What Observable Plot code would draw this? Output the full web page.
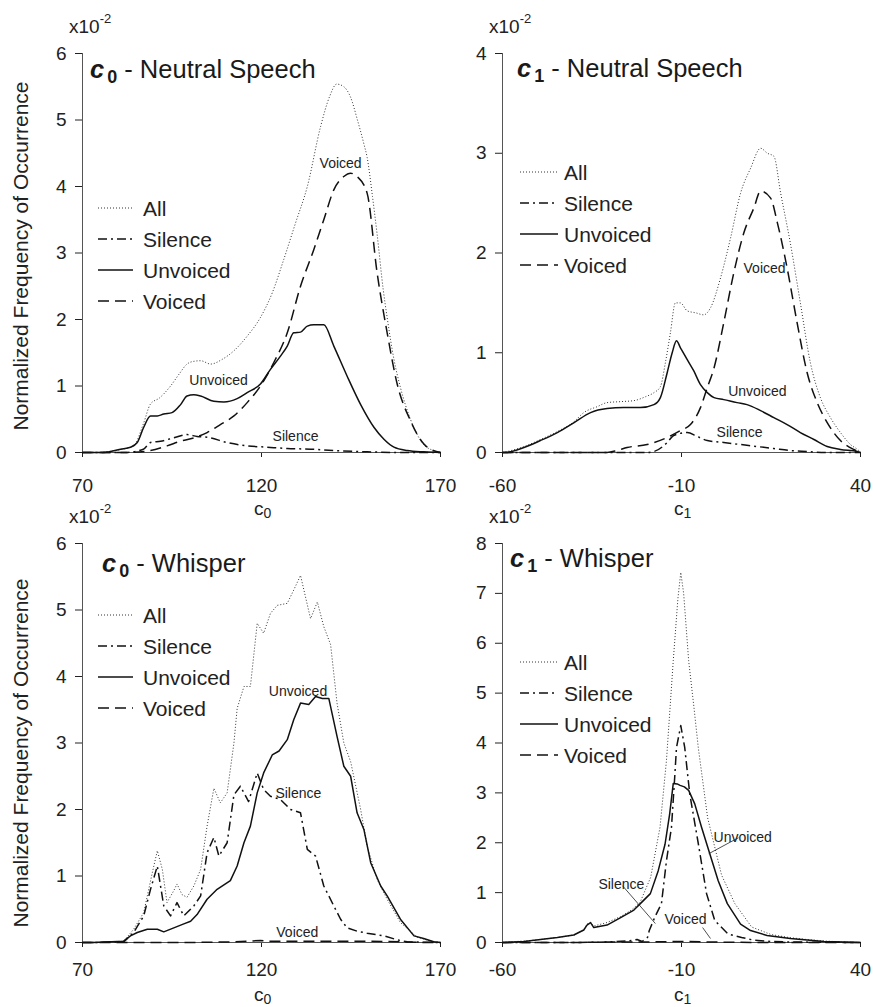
<!DOCTYPE html>
<html>
<head>
<meta charset="utf-8">
<script src="https://cdn.jsdelivr.net/npm/d3@7"></script>
<script src="https://cdn.jsdelivr.net/npm/@observablehq/plot@0.6"></script>
<style>
  body { margin: 0; background: #fff; }
  #chart { position: relative; width: 874px; height: 1007px; overflow: hidden;
           font-family: "Liberation Sans", Arial, sans-serif; color: #222; }
  .panel { position: absolute; }
  #overlay { position: absolute; left: 0; top: 0; pointer-events: none; }
</style>
</head>
<body>
<div id="chart"></div>
<script>
// Histogram values in units of 1e-2, as [coefficient value, normalized frequency].

// c0 - Neutral Speech
const c0NeutralAll = [[70,0],[73,0],[78,0.02],[82,0.06],[84.3,0.1],[87,0.43],[89,0.73],[91.5,0.82],[94.6,1.0],[97,1.18],[99.2,1.33],[101,1.37],[103,1.38],[105.8,1.33],[109,1.4],[112.3,1.53],[116,1.75],[119.7,2.03],[123,2.4],[126.2,2.9],[129.5,3.45],[132.8,4.0],[136.5,4.9],[139,5.35],[141,5.54],[143,5.5],[144.9,5.34],[146.8,5.0],[148.6,4.64],[149.5,4.44],[151,3.85],[152.3,3.28],[154,2.45],[155.1,2.03],[157,1.4],[158.8,0.98],[161.6,0.5],[163.5,0.27],[165.3,0.12],[168,0.03],[170,0]];
const c0NeutralSilence = [[70,0],[73,0],[82,0],[87,0.05],[89,0.15],[91.8,0.17],[95.5,0.22],[99.2,0.27],[102,0.24],[104.8,0.23],[110.4,0.15],[116,0.1],[121.6,0.08],[127.2,0.06],[133.7,0.05],[140.2,0.03],[149.5,0.01],[160,0],[170,0]];
const c0NeutralUnvoiced = [[70,0],[73,0],[76,0],[80.6,0.05],[83.4,0.08],[85.3,0.15],[87.1,0.38],[89,0.55],[90.9,0.55],[92.7,0.58],[95,0.6],[97.4,0.72],[99.2,0.85],[101.1,0.87],[103,0.85],[106.7,0.77],[109.5,0.76],[113.2,0.81],[116,0.9],[119.7,1.03],[122.5,1.25],[125.3,1.45],[127.2,1.6],[129,1.8],[130.9,1.81],[132.8,1.9],[134.6,1.92],[137.4,1.92],[140.2,1.6],[143.9,1.15],[147.7,0.72],[151.4,0.38],[154.2,0.2],[157,0.08],[160.7,0.03],[165.3,0.01],[170,0]];
const c0NeutralVoiced = [[70,0],[82.5,0],[89,0.03],[93.6,0.1],[97.4,0.17],[101.1,0.22],[104.8,0.3],[108.5,0.42],[112.3,0.55],[116,0.75],[119.7,1.0],[123.4,1.35],[127.2,1.8],[130.9,2.5],[134.6,3.05],[137.4,3.5],[140.2,3.95],[143,4.15],[144.9,4.2],[146.7,4.15],[149.5,3.9],[152.3,2.7],[155.1,1.8],[157.9,1.03],[161.6,0.48],[165.3,0.13],[168,0.03],[170,0]];

// c1 - Neutral Speech
const c1NeutralAll = [[-60,0],[-58.7,0.01],[-54,0.06],[-49.4,0.13],[-44.7,0.21],[-40,0.31],[-37.3,0.4],[-33.5,0.46],[-30.8,0.5],[-27,0.51],[-23.3,0.52],[-20,0.56],[-17.7,0.6],[-15.9,0.66],[-14.5,0.9],[-13.1,1.2],[-11.7,1.5],[-10.3,1.5],[-8.4,1.42],[-6,1.4],[-3.8,1.38],[-1.9,1.45],[0.9,1.75],[3.7,2.15],[6.5,2.6],[9.3,2.85],[12.1,3.05],[14,3.0],[15.8,2.97],[17.7,2.6],[20.4,2.1],[23.2,1.5],[26,0.9],[28.8,0.55],[31.6,0.35],[34.4,0.2],[37.2,0.08],[39.5,0.02],[40,0]];
const c1NeutralSilence = [[-60,0],[-20,0],[-17.7,0.01],[-14,0.1],[-12.2,0.17],[-8.4,0.2],[-5.6,0.16],[-2.8,0.12],[1.8,0.1],[6.5,0.08],[11.1,0.06],[15.8,0.04],[20.4,0.02],[25.1,0.01],[30,0],[40,0]];
const c1NeutralUnvoiced = [[-60,0],[-59.2,0],[-54,0.05],[-49.4,0.12],[-44.7,0.2],[-40,0.3],[-35.4,0.4],[-30.8,0.44],[-26.1,0.45],[-21.5,0.45],[-17.7,0.48],[-15.9,0.55],[-14,0.8],[-12.6,1.0],[-11.4,1.12],[-10.3,1.05],[-8.4,0.93],[-6.6,0.82],[-4.7,0.68],[-2.8,0.6],[-0.9,0.55],[1.8,0.53],[5.5,0.5],[8.3,0.48],[12.1,0.42],[15.8,0.35],[19.5,0.28],[23.2,0.2],[27,0.13],[30.7,0.06],[34.4,0.03],[39.1,0.01],[40,0]];
const c1NeutralVoiced = [[-60,0],[-30.8,0],[-28,0.02],[-25.2,0.05],[-19.6,0.08],[-14,0.15],[-10.3,0.22],[-7.5,0.28],[-4.7,0.45],[-2.8,0.65],[-0.9,0.85],[1.8,1.3],[4.6,1.8],[7.4,2.2],[10.2,2.45],[12.1,2.62],[14.9,2.55],[16.8,2.3],[19.5,1.85],[22.3,1.3],[25.1,0.8],[27.9,0.5],[30.7,0.3],[34.4,0.12],[38.1,0.03],[40,0]];

// c0 - Whisper
const c0WhisperAll = [[70,0],[73,0],[81.5,0.02],[84.3,0.2],[87.1,0.45],[89.5,1.05],[90.9,1.38],[92.3,1.1],[93.6,0.6],[95.5,0.78],[96.4,0.88],[97.8,0.72],[99.2,0.68],[101.1,0.85],[103,1.1],[104.8,1.75],[106.7,2.32],[108.5,2.1],[110.4,2.25],[112.3,3.0],[113.2,3.52],[115.1,3.85],[116.9,3.85],[118.8,4.8],[120.6,4.65],[122.5,4.95],[124.4,5.07],[127.2,5.1],[129,5.3],[130.9,5.52],[133.7,4.87],[135.6,5.12],[137.4,4.75],[139.3,4.48],[141.1,3.6],[143,3.0],[144.9,2.72],[147.7,2.0],[149.5,1.45],[152.3,0.95],[155.1,0.65],[158.8,0.3],[163.5,0.08],[167.2,0.02],[170,0]];
const c0WhisperSilence = [[70,0],[73,0],[81.5,0.01],[84.3,0.15],[87.1,0.4],[89,0.8],[90.9,1.15],[92.7,0.55],[94.6,0.4],[96.4,0.6],[98.3,0.4],[101.1,0.55],[103,0.7],[104.8,1.35],[106.7,1.58],[108.1,1.3],[110.4,1.5],[112.3,2.22],[114.1,2.35],[116.4,2.12],[118.8,2.55],[120.6,2.3],[122.5,2.2],[125.3,2.15],[128.1,2.0],[130.9,1.95],[132.8,1.4],[135.1,1.3],[137.4,0.85],[140.2,0.55],[142.1,0.35],[143.9,0.22],[146.7,0.17],[149.5,0.14],[154.2,0.1],[157.9,0.04],[160.7,0.01],[170,0]];
const c0WhisperUnvoiced = [[70,0],[73,0],[81.5,0.02],[83.4,0.1],[85.3,0.15],[88.1,0.2],[90.9,0.2],[92.7,0.16],[95.5,0.22],[98.3,0.28],[100.2,0.32],[102,0.42],[104.8,0.65],[107.6,0.8],[111.3,0.93],[113.2,1.15],[115.1,1.5],[116.9,1.75],[118.8,2.25],[120.6,2.55],[123,2.82],[124.9,2.88],[127.2,3.05],[129,3.35],[130.9,3.6],[133.2,3.58],[135.1,3.7],[137,3.67],[138.8,3.67],[141.1,3.1],[143,2.65],[144.9,2.5],[146.7,1.95],[148.6,1.7],[150.5,1.2],[153.3,0.85],[155.1,0.7],[158.8,0.35],[162.6,0.1],[165.3,0.06],[168.1,0.01],[170,0]];
const c0WhisperVoiced = [[70,0],[100,0],[112.3,0.01],[119.7,0.03],[121.6,0.02],[130.9,0.02],[140.2,0.02],[149.5,0.02],[158.8,0.01],[165,0],[170,0]];

// c1 - Whisper
const c1WhisperAll = [[-60,0],[-58.7,0.01],[-54,0.03],[-49.4,0.06],[-44.7,0.1],[-40,0.15],[-37.3,0.25],[-36.4,0.37],[-35.4,0.4],[-34.5,0.33],[-30.8,0.4],[-27,0.52],[-24,0.65],[-21.6,0.8],[-18.6,1.31],[-16,2.31],[-14.2,3.65],[-12.3,5.65],[-11,6.9],[-10.2,7.42],[-9.4,7.0],[-8,5.65],[-6.5,4.7],[-5.3,3.9],[-2.7,2.5],[1.2,1.35],[4.9,0.78],[9.6,0.31],[15,0.16],[20,0.1],[25,0.06],[30,0.03],[35,0.01],[40,0]];
const c1WhisperSilence = [[-60,0],[-40,0],[-30.8,0.01],[-25,0.03],[-22.4,0.06],[-21,0.02],[-19.5,0.1],[-19,0.24],[-17.5,0.5],[-15.6,0.78],[-14.2,1.64],[-12.8,2.31],[-11.9,3.31],[-11.4,3.91],[-10.2,4.35],[-9.1,3.91],[-7.7,2.98],[-5.3,1.98],[-3.0,0.98],[-0.7,0.44],[3.0,0.17],[6.8,0.1],[10,0.05],[15,0.02],[20,0.01],[40,0]];
const c1WhisperUnvoiced = [[-60,0],[-59.2,0],[-54,0.02],[-49.4,0.06],[-44.7,0.1],[-40.1,0.15],[-37.3,0.25],[-36.4,0.35],[-35.4,0.4],[-34.5,0.3],[-30.8,0.35],[-27,0.5],[-23.3,0.65],[-21.5,0.78],[-18.7,0.98],[-16.5,1.44],[-14.6,1.97],[-13.3,2.58],[-12.3,3.19],[-11.2,3.18],[-10.4,3.15],[-9.2,3.12],[-8,3.05],[-6.3,2.78],[-4.4,2.31],[-2.1,1.78],[0.25,1.24],[2.8,0.78],[6.5,0.37],[9.3,0.24],[13.9,0.14],[20.4,0.08],[25.1,0.05],[29.8,0.02],[35,0.01],[40,0]];
const c1WhisperVoiced = [[-60,0],[-40,0],[-30,0.01],[-20,0.01],[-12,0.02],[-8,0.02],[-2,0.01],[10,0],[40,0]];

// In-plot labels: [x, y, text, anchor]
const c0NeutralNotes = [[142.1,4.35,"Voiced","middle"],[108,1.08,"Unvoiced","middle"],[129.5,0.24,"Silence","middle"]];
const c1NeutralNotes = [[13.2,1.84,"Voiced","middle"],[11.2,0.61,"Unvoiced","middle"],[6.2,0.2,"Silence","middle"]];
const c0WhisperNotes = [[130.2,3.77,"Unvoiced","middle"],[130.3,2.24,"Silence","middle"],[130,0.15,"Voiced","middle"]];
const c1WhisperNotes = [[7.1,2.1,"Unvoiced","start"],[-26.8,1.16,"Silence","end"],[-8.9,0.46,"Voiced","middle"]];
// Leader lines from label to curve: [x1, y1, x2, y2]
const c1WhisperLeaders = [[5.9,2.1,-2.4,1.78],[-26.5,1.14,-17.3,0.38],[-4.1,0.3,-1.9,0.08]];

const seriesNames = ["All", "Silence", "Unvoiced", "Voiced"];

// Line styles per series
const lineStyle = {
  All:      {stroke: "#333", strokeWidth: 1,   dash: "1,2"},
  Silence:  {stroke: "#111", strokeWidth: 1.5, dash: "9,4,2,4"},
  Unvoiced: {stroke: "#111", strokeWidth: 1.5, dash: null},
  Voiced:   {stroke: "#111", strokeWidth: 1.5, dash: "11,6"}
};

const FONT = '"Liberation Sans", Arial, sans-serif';
// plain integer labels with an ASCII hyphen for negatives
const intFormat = d => String(d);

const panels = [
  {sym: "0", name: "Neutral Speech", xDomain: [70,170], xTicks: [70,120,170], yMax: 6,
   series: [c0NeutralAll, c0NeutralSilence, c0NeutralUnvoiced, c0NeutralVoiced],
   notes: c0NeutralNotes, leaders: [], curve: "monotone-x", xPad: 21,
   box: {left: 0, top: 0, width: 470, height: 530, mt: 53, mb: 78, ml: 82, mr: 30},
   title: [90, 78], exp: [69, 33], legend: [98, 208, 35, 143], xlab: [254, 515], ylab: [28, 256]},
  {sym: "1", name: "Neutral Speech", xDomain: [-60,40], xTicks: [-60,-10,40], yMax: 4,
   series: [c1NeutralAll, c1NeutralSilence, c1NeutralUnvoiced, c1NeutralVoiced],
   notes: c1NeutralNotes, leaders: [], curve: "monotone-x", xPad: 21,
   box: {left: 440, top: 0, width: 434, height: 530, mt: 53, mb: 78, ml: 62, mr: 14},
   title: [517, 77], exp: [489, 33], legend: [520, 172, 38, 564], xlab: [674, 515]},
  {sym: "0", name: "Whisper", xDomain: [70,170], xTicks: [70,120,170], yMax: 6,
   series: [c0WhisperAll, c0WhisperSilence, c0WhisperUnvoiced, c0WhisperVoiced],
   notes: c0WhisperNotes, leaders: [], curve: "linear", xPad: 15,
   box: {left: 0, top: 490, width: 470, height: 517, mt: 53, mb: 65, ml: 82, mr: 30},
   title: [102, 572], exp: [69, 523], legend: [98, 615, 35, 143], xlab: [254, 1001], ylab: [28, 753]},
  {sym: "1", name: "Whisper", xDomain: [-60,40], xTicks: [-60,-10,40], yMax: 8,
   series: [c1WhisperAll, c1WhisperSilence, c1WhisperUnvoiced, c1WhisperVoiced],
   notes: c1WhisperNotes, leaders: c1WhisperLeaders, curve: "linear", xPad: 15,
   box: {left: 440, top: 490, width: 434, height: 517, mt: 53, mb: 65, ml: 62, mr: 14},
   title: [510, 567], exp: [489, 523], legend: [520, 662, 38, 564], xlab: [674, 1001]}
];

const chart = document.getElementById("chart");

for (const p of panels) {
  const b = p.box;
  const lines = p.series.map((data, i) => {
    const s = lineStyle[seriesNames[i]];
    return Plot.line(data, {
      x: d => d[0], y: d => d[1], curve: p.curve,
      stroke: s.stroke, strokeWidth: s.strokeWidth,
      strokeDasharray: s.dash || undefined,
      strokeLinecap: "butt", strokeLinejoin: "round"
    });
  });
  const svg = Plot.plot({
    width: b.width, height: b.height,
    marginTop: b.mt, marginBottom: b.mb, marginLeft: b.ml, marginRight: b.mr,
    style: {background: "transparent", fontFamily: FONT, fontSize: "19px", color: "#222", overflow: "visible"},
    x: {domain: p.xDomain, ticks: p.xTicks, tickFormat: intFormat, tickSize: 5, tickPadding: p.xPad, label: null},
    y: {domain: [0, p.yMax], ticks: d3.range(0, p.yMax + 1), tickFormat: intFormat, tickSize: 7, tickPadding: 9, label: null},
    marks: [
      Plot.ruleY([0], {stroke: "#555", strokeWidth: 1}),
      Plot.ruleX([p.xDomain[0]], {stroke: "#555", strokeWidth: 1}),
      ...lines,
      Plot.link(p.leaders, {x1: d => d[0], y1: d => d[1], x2: d => d[2], y2: d => d[3], stroke: "#222", strokeWidth: 0.8}),
      Plot.text(p.notes, {x: d => d[0], y: d => d[1], text: d => d[2], textAnchor: d => d[3],
                          fontSize: 14, fill: "#222"})
    ]
  });
  const wrap = document.createElement("div");
  wrap.className = "panel";
  wrap.style.left = b.left + "px";
  wrap.style.top = b.top + "px";
  wrap.appendChild(svg);
  chart.appendChild(wrap);
}

// Titles, exponents, axis names and legends drawn on top of the panels
const ov = d3.select(chart).append("svg").attr("id", "overlay")
  .attr("width", 874).attr("height", 1007)
  .style("font-family", FONT).style("white-space", "pre");

for (const p of panels) {
  // panel title: bold italic c with subscript index
  const t = ov.append("text").attr("x", p.title[0]).attr("y", p.title[1])
    .attr("font-size", 25.5).attr("fill", "#1a1a1a");
  t.append("tspan").attr("font-weight", "bold").attr("font-style", "italic").text("c");
  t.append("tspan").attr("font-weight", "bold").attr("font-size", 18).attr("dx", 3).attr("dy", 5).text(p.sym);
  t.append("tspan").attr("dy", -5).text(" - " + p.name);

  // scale exponent above the y axis
  const e = ov.append("text").attr("x", p.exp[0]).attr("y", p.exp[1])
    .attr("font-size", 19).attr("fill", "#222");
  e.append("tspan").text("x10");
  e.append("tspan").attr("font-size", 13).attr("dy", -10).text("-2");

  // x axis name
  const xl = ov.append("text").attr("x", p.xlab[0]).attr("y", p.xlab[1])
    .attr("font-size", 19).attr("fill", "#222");
  xl.append("tspan").text("c");
  xl.append("tspan").attr("font-size", 14).attr("dy", 3).text(p.sym);

  // y axis name (left column only)
  if (p.ylab) {
    ov.append("text")
      .attr("transform", `translate(${p.ylab[0]},${p.ylab[1]}) rotate(-90)`)
      .attr("text-anchor", "middle").attr("font-size", 21).attr("fill", "#222")
      .text("Normalized Frequency of Occurrence");
  }

  // legend
  const [lx, ly, len, tx] = p.legend;
  seriesNames.forEach((name, i) => {
    const s = lineStyle[name];
    const y = ly + i * 31;
    ov.append("line").attr("x1", lx).attr("x2", lx + len).attr("y1", y).attr("y2", y)
      .attr("stroke", s.stroke).attr("stroke-width", s.strokeWidth)
      .attr("stroke-dasharray", s.dash);
    ov.append("text").attr("x", tx).attr("y", y).attr("dy", "0.36em")
      .attr("font-size", 21).attr("fill", "#222").text(name);
  });
}
</script>
</body>
</html>
